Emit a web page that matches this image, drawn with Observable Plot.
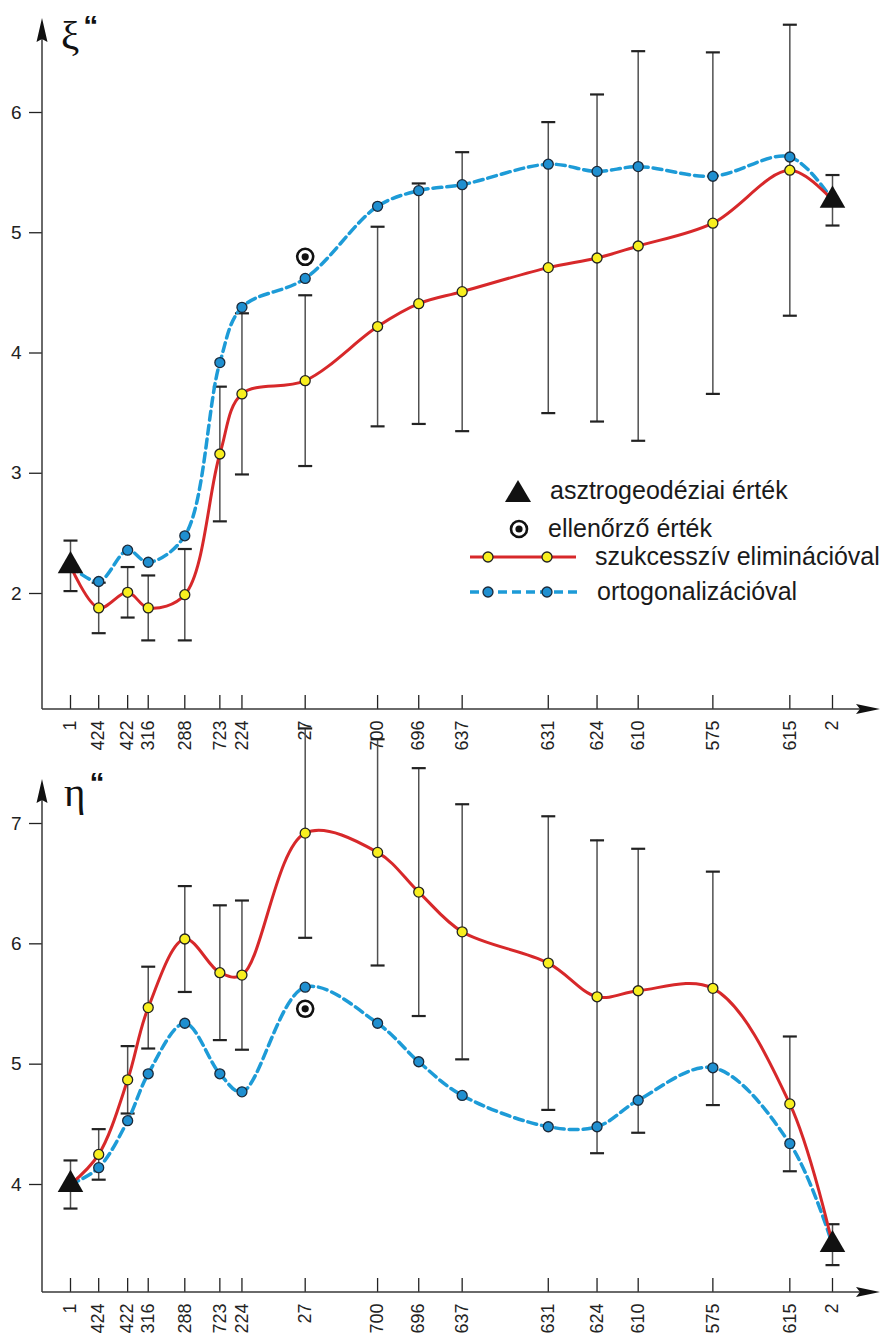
<!DOCTYPE html>
<html lang="hu">
<head>
<meta charset="utf-8">
<script src="https://cdn.jsdelivr.net/npm/d3@7"></script>
<script src="https://cdn.jsdelivr.net/npm/@observablehq/plot@0.6"></script>
<style>
  body { margin: 0; background: #fff; }
  #chart { position: relative; width: 881px; height: 1336px; overflow: hidden;
           font-family: "Liberation Sans", Arial, sans-serif; color: #1a1a1a; }
  .axname { position: absolute; font-family: "Liberation Serif", "DejaVu Serif", serif;
            font-size: 41px; line-height: 1; color: #111; white-space: nowrap; }
  .axname .q { font-family: "Liberation Sans", Arial, sans-serif; font-weight: bold;
               font-size: 30px; position: relative; top: -13px; margin-left: 4px; }
  .lg-text { position: absolute; font-size: 25px; line-height: 1; white-space: nowrap; color: #1a1a1a; }
  .lg-swatch { position: absolute; overflow: visible; }
</style>
</head>
<body>
<div id="chart">
  <div id="plots"></div>
  <div class="axname" style="left:61px; top:15px;">ξ<span class="q">“</span></div>
  <div class="axname" style="left:64px; top:772px;">η<span class="q">“</span></div>

  <!-- legend -->
  <svg class="lg-swatch" style="left:0;top:0" width="881" height="700">
    <polygon points="505,502 531,502 518,480" fill="#111"/>
    <circle cx="519" cy="529" r="8" fill="#fff" stroke="#111" stroke-width="2.6"/>
    <circle cx="519" cy="529" r="3.6" fill="#111"/>
    <line x1="470" x2="576" y1="557" y2="557" stroke="#d7282a" stroke-width="3"/>
    <circle cx="488" cy="557" r="5" fill="#f8ef1f" stroke="#222" stroke-width="1.3"/>
    <circle cx="547" cy="557" r="5" fill="#f8ef1f" stroke="#222" stroke-width="1.3"/>
    <line x1="470" x2="578" y1="592" y2="592" stroke="#1d9bd7" stroke-width="3.5" stroke-dasharray="9,5"/>
    <circle cx="488" cy="592" r="5" fill="#1f8fd0" stroke="#1b2a3a" stroke-width="1.3"/>
    <circle cx="547" cy="592" r="5" fill="#1f8fd0" stroke="#1b2a3a" stroke-width="1.3"/>
  </svg>
  <div class="lg-text" style="left:550px; top:478px;">asztrogeodéziai érték</div>
  <div class="lg-text" style="left:548px; top:516px;">ellenőrző érték</div>
  <div class="lg-text" style="left:595px; top:544px;">szukcesszív eliminációval</div>
  <div class="lg-text" style="left:597px; top:579px;">ortogonalizációval</div>
</div>

<script>
// Stations along the profile and their distance from station 1 (profile length = 100)
const stations = ["1", "424", "422", "316", "288", "723", "224", "27", "700", "696", "637", "631", "624", "610", "575", "615", "2"];
const distance = [0, 3.7, 7.5, 10.2, 15.0, 19.6, 22.5, 30.8, 40.3, 45.7, 51.4, 62.7, 69.1, 74.5, 84.3, 94.4, 100];

// ξ component (arcsec): astrogeodetic values at the end stations 1 and 2
const xiAstro = [2.23, 5.27];
const xiAstroSigma = [0.21, 0.21];
// interpolated values at the inner stations (424 … 615)
const xiSzukcessziv = [1.88, 2.01, 1.88, 1.99, 3.16, 3.66, 3.77, 4.22, 4.41, 4.51, 4.71, 4.79, 4.89, 5.08, 5.52];
const xiSigma = [0.21, 0.21, 0.27, 0.38, 0.56, 0.67, 0.71, 0.83, 1.00, 1.16, 1.21, 1.36, 1.62, 1.42, 1.21];
const xiOrtogonal = [2.10, 2.36, 2.26, 2.48, 3.92, 4.38, 4.62, 5.22, 5.35, 5.40, 5.57, 5.51, 5.55, 5.47, 5.63];
const xiCheckStation = "27";
const xiCheckValue = 4.80;
const xiTicks = [2, 3, 4, 5, 6];

// η component (arcsec)
const etaAstro = [4.00, 3.50];
const etaAstroSigma = [0.20, 0.17];
const etaSzukcessziv = [4.25, 4.87, 5.47, 6.04, 5.76, 5.74, 6.92, 6.76, 6.43, 6.10, 5.84, 5.56, 5.61, 5.63, 4.67];
const etaSigma = [0.21, 0.28, 0.34, 0.44, 0.56, 0.62, 0.87, 0.94, 1.03, 1.06, 1.22, 1.30, 1.18, 0.97, 0.56];
const etaOrtogonal = [4.14, 4.53, 4.92, 5.34, 4.92, 4.77, 5.64, 5.34, 5.02, 4.74, 4.48, 4.48, 4.70, 4.97, 4.34];
const etaCheckStation = "27";
const etaCheckValue = 5.46;
const etaTicks = [4, 5, 6, 7];

// layout
const W = 881, AXIS_LEFT = 42, ARROW_RIGHT = 880;
const X_RANGE = [70, 832];

// short horizontal stroke used for the error-bar caps
const capSymbol = {
  draw(ctx, size) {
    const w = Math.sqrt(size / Math.PI);
    ctx.moveTo(-w, 0);
    ctx.lineTo(w, 0);
  }
};

function panel({astro, astroSigma, szuk, sigma, orto, checkStation, checkValue, ticks,
                yDomain, yRange, height, axisBottom, arrowTop, overflow}) {
  const n = stations.length;
  const inner = d3.range(1, n - 1).map((i, k) => ({
    x: distance[i], v: szuk[k], sig: sigma[k], orto: orto[k]
  }));
  const ends = [
    {x: distance[0], v: astro[0], sig: astroSigma[0]},
    {x: distance[n - 1], v: astro[1], sig: astroSigma[1]}
  ];
  const bars = [ends[0], ...inner, ends[1]];
  const caps = bars.flatMap(d => [{x: d.x, y: d.v - d.sig}, {x: d.x, y: d.v + d.sig}]);
  const redLine = [ends[0], ...inner.map(d => ({x: d.x, v: d.v})), ends[1]];
  const blueLine = [ends[0], ...inner.map(d => ({x: d.x, v: d.orto})), ends[1]];
  const check = [{x: distance[stations.indexOf(checkStation)], v: checkValue}];

  const svg = Plot.plot({
    width: W,
    height,
    marginLeft: AXIS_LEFT,
    marginRight: W - ARROW_RIGHT,
    marginTop: arrowTop,
    marginBottom: height - axisBottom,
    style: {
      fontFamily: '"Liberation Sans", Arial, sans-serif',
      fontSize: "18px",
      color: "#222",
      overflow: overflow ? "visible" : "hidden",
      background: overflow ? "transparent" : "#fff"
    },
    x: {domain: [distance[0], distance[n - 1]], range: X_RANGE},
    y: {domain: yDomain, range: yRange},
    marks: [
      Plot.axisY(ticks, {anchor: "left", tickSize: 13, tickPadding: 8, fontSize: 19, label: null,
                         strokeWidth: 1.3, tickFormat: d => String(d)}),
      Plot.axisX(distance, {
        anchor: "bottom", tickSize: -14, tickPadding: 25, tickRotate: -90, fontSize: 18,
        tickFormat: d => stations[distance.indexOf(d)], label: null, strokeWidth: 1.3
      }),
      // error bars
      Plot.ruleX(bars, {x: "x", y1: d => d.v - d.sig, y2: d => d.v + d.sig, stroke: "#505050", strokeWidth: 1.5}),
      Plot.dot(caps, {x: "x", y: "y", symbol: capSymbol, r: 7, fill: "none", stroke: "#222", strokeWidth: 2.2}),
      // smoothed profiles
      Plot.line(blueLine, {x: "x", y: "v", curve: "catmull-rom", stroke: "#1d9bd7", strokeWidth: 3.5, strokeDasharray: "9,5"}),
      Plot.line(redLine, {x: "x", y: "v", curve: "catmull-rom", stroke: "#d7282a", strokeWidth: 3}),
      Plot.dot(inner, {x: "x", y: "orto", r: 5, fill: "#1f8fd0", stroke: "#1b2a3a", strokeWidth: 1.3}),
      Plot.dot(inner, {x: "x", y: "v", r: 5, fill: "#f8ef1f", stroke: "#222", strokeWidth: 1.3}),
      // astrogeodetic stations
      Plot.dot(ends, {x: "x", y: "v", symbol: "triangle", r: 9.5, fill: "#111", stroke: "none"}),
      // check value
      Plot.dot(check, {x: "x", y: "v", r: 8, fill: "#fff", stroke: "#111", strokeWidth: 2.6}),
      Plot.dot(check, {x: "x", y: "v", r: 3.6, fill: "#111"})
    ]
  });

  // axis lines with arrow heads
  const g = d3.select(svg).append("g");
  g.append("path")
    .attr("d", `M${AXIS_LEFT},${axisBottom}V${arrowTop + 20}M${AXIS_LEFT},${axisBottom}H${ARROW_RIGHT - 20}`)
    .attr("fill", "none").attr("stroke", "#3a3a3a").attr("stroke-width", 1.5);
  g.append("path")
    .attr("d", `M${AXIS_LEFT},${arrowTop}L${AXIS_LEFT + 5.5},${arrowTop + 24}L${AXIS_LEFT},${arrowTop + 21}L${AXIS_LEFT - 5.5},${arrowTop + 24}Z`)
    .attr("fill", "#111");
  g.append("path")
    .attr("d", `M${ARROW_RIGHT},${axisBottom}L${ARROW_RIGHT - 24},${axisBottom - 5}L${ARROW_RIGHT - 20},${axisBottom}L${ARROW_RIGHT - 24},${axisBottom + 5}Z`)
    .attr("fill", "#111");
  return svg;
}

const plots = document.getElementById("plots");
plots.append(panel({
  astro: xiAstro, astroSigma: xiAstroSigma, szuk: xiSzukcessziv, sigma: xiSigma, orto: xiOrtogonal,
  checkStation: xiCheckStation, checkValue: xiCheckValue, ticks: xiTicks,
  yDomain: [2, 6], yRange: [593, 112], height: 770, axisBottom: 709, arrowTop: 18, overflow: false
}));
plots.append(panel({
  astro: etaAstro, astroSigma: etaAstroSigma, szuk: etaSzukcessziv, sigma: etaSigma, orto: etaOrtogonal,
  checkStation: etaCheckStation, checkValue: etaCheckValue, ticks: etaTicks,
  yDomain: [4, 7], yRange: [414, 53], height: 566, axisBottom: 522, arrowTop: 9, overflow: true
}));
</script>
</body>
</html>
